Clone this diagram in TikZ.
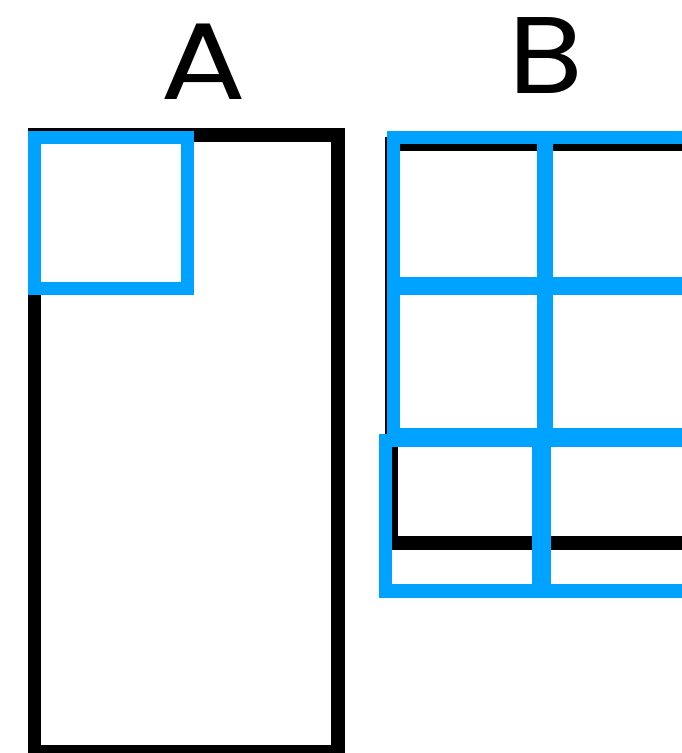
\documentclass[tikz,border=0pt]{standalone}
\usepackage{fontspec}
\setmainfont{Poppins}
\usetikzlibrary{positioning}
\definecolor{Ink}{HTML}{000000}
\definecolor{Sky}{HTML}{00A2FF}

\begin{document}
\begin{tikzpicture}[x=1pt,y=-1pt,line width=13.3pt,
    label text/.style={font=\fontsize{109}{109}\selectfont,text=Ink,anchor=base,inner sep=0pt}]
        \useasboundingbox (0,0) rectangle (682,753);
        \clip (0,0) rectangle (682,753);

        % titles
        \node[label text] (titleA) at (203.8,99.3) {\scalebox{1.17}[1]{A}};
        \node[label text] (titleB) at (545.8,93.3) {\scalebox{1.12}[1]{B}};

        % image A with one tile
        \draw[Ink] (34.3,135) rectangle (338,751.7);
        \draw[Sky] (34.2,137.7) rectangle (187.7,288.3);

        % image B, tiled
        \draw[Ink] (391.3,144) rectangle (720,543);
        \foreach \xa/\xb/\ya/\yb in {
          393.3/544/137.7/284,546.3/700/137.7/284,
          393.3/544/288.3/435,546.3/700/288.3/435,
          385.7/538.3/440.3/591,544.4/700/440.3/591}
          \draw[Sky] (\xa,\ya) rectangle (\xb,\yb);
      \end{tikzpicture}
\end{document}
